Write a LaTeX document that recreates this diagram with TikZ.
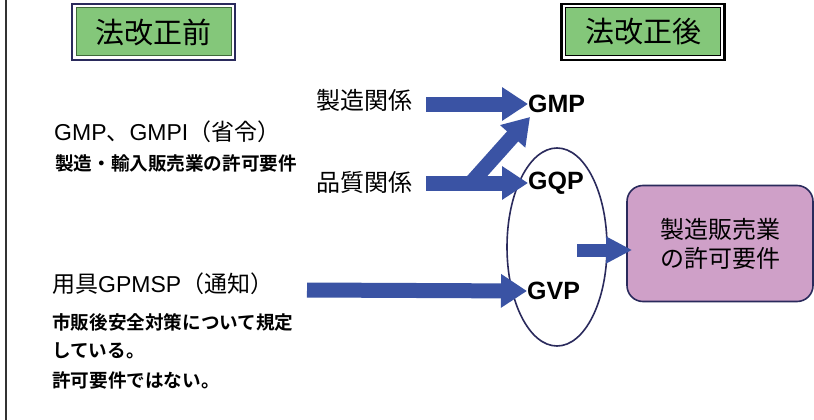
\documentclass[tikz,border=0pt]{standalone}
\usepackage{fontspec}
\setmainfont{Noto Sans CJK JP}[BoldFont={Noto Sans CJK JP Bold}]
\newfontfamily\lat{Liberation Sans}
\usetikzlibrary{arrows.meta,shapes.geometric}
\definecolor{arrowblue}{HTML}{3A53A4}
\definecolor{boxgreen}{HTML}{84C77A}
\definecolor{darkgreen}{HTML}{3F6A3A}
\definecolor{navy}{HTML}{2A2A5C}
\definecolor{boxpurple}{HTML}{CFA0C8}
\newcommand\ls[1]{{\lat #1}}
\tikzset{
  titlebox/.style={fill=boxgreen, draw=darkgreen, line width=1pt, minimum width=155pt, minimum height=48pt, inner sep=0pt, font=\fontsize{29}{31}\selectfont},
  lbl/.style={inner sep=0pt, anchor=west, font=\fontsize{24}{26}\selectfont},
  gx/.style={inner sep=0pt, anchor=west, font=\lat\bfseries\fontsize{25}{27}\selectfont},
  big/.style={inner sep=0pt, anchor=west, font=\fontsize{23}{25}\selectfont},
  small/.style={inner sep=0pt, anchor=west, font=\bfseries\fontsize{18.6}{20}\selectfont},
  barrow/.style={draw=arrowblue, line width=15pt, -{Triangle[width=32pt,length=26pt]}},
  sarrow/.style={draw=arrowblue, line width=13pt, -{Triangle[width=25pt,length=26pt]}}
}
\begin{document}
\begin{tikzpicture}[x=1pt,y=-1pt]
\useasboundingbox (0,0) rectangle (814,420);
\fill[white] (0,0) rectangle (814,420);
\draw[line width=1.5pt, black!80] (6,0) -- (6,420);

% title boxes
\node[titlebox] (before) at (153.5,32) {法改正前};
\draw[navy, line width=2.5pt] ([xshift=-3.5pt,yshift=3.5pt]before.north west) rectangle ([xshift=3.5pt,yshift=-3.5pt]before.south east);
\node[titlebox, draw=black] (after) at (643,32) {法改正後};
\draw[black, line width=2.5pt] ([xshift=-3.5pt,yshift=3.5pt]after.north west) rectangle ([xshift=3.5pt,yshift=-3.5pt]after.south east);

% left texts
\node[big] (gmpi) at (54,132) {\ls{GMP}、\ls{GMPI}（省令）};
\node[small] (req1) at (55,163) {製造・輸入販売業の許可要件};
\node[big] (gpmsp) at (52,284) {用具\ls{GPMSP}（通知）};
\node[small] (n1) at (52,322) {市販後安全対策について規定};
\node[small] (n2) at (52,351) {している。};
\node[small] (n3) at (52,380) {許可要件ではない。};

% middle texts
\node[lbl] (mfg) at (316,100) {製造関係};
\node[lbl] (qual) at (316,182) {品質関係};

% ellipse
\node[ellipse, draw=navy, line width=1.6pt, minimum width=100pt, minimum height=198pt, inner sep=0pt] (ell) at (557,247) {};

% G labels
\node[gx] (gmp) at (528,104) {GMP};
\node[gx] (gqp) at (528,183) {GQP};
\node[gx] (gvp) at (527,291) {GVP};

% purple box
\node[draw=navy, line width=1.6pt, fill=boxpurple, rounded corners=16pt, minimum width=186pt, minimum height=116pt, inner sep=0pt, align=center, font=\fontsize{24}{29}\selectfont] (lic) at (720,243.5) {製造販売業\\の許可要件};

% arrows
\coordinate (a1s) at ([xshift=14pt]mfg.east |- gmp.west);
\draw[barrow] (a1s) -- (gmp.west);
\coordinate (a2s) at ([xshift=14pt]qual.east |- gqp.west);
\draw[barrow] (a2s) -- (gqp.west);
\coordinate (a3s) at (471,183);
\coordinate (a3e) at (530,117);
\draw[barrow] (a3s) -- (a3e);
\coordinate (a4s) at (307,290);
\draw[barrow] (a4s) -- (gvp.west);
\coordinate (a5s) at (577,250);
\coordinate (a5e) at ([xshift=6pt]lic.west |- a5s);
\draw[sarrow] (a5s) -- (a5e);
\end{tikzpicture}
\end{document}
